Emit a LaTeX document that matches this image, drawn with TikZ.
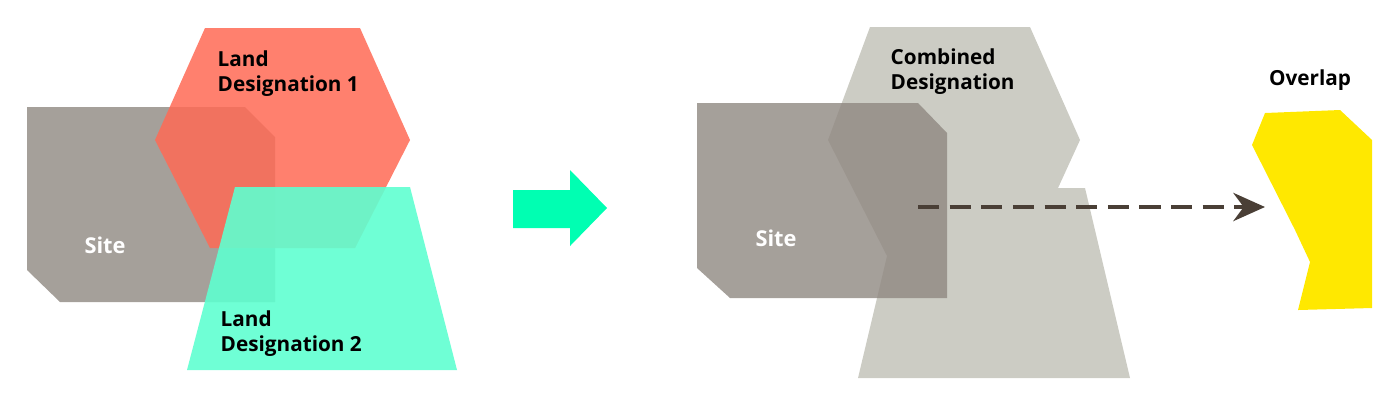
\documentclass[tikz,border=0pt]{standalone}
\usepackage{fontspec}
\setmainfont{Open Sans}
\usetikzlibrary{arrows.meta}
\definecolor{sitegray}{HTML}{8F8881}
\definecolor{landred}{HTML}{FF6A55}
\definecolor{landteal}{HTML}{5FFFD0}
\definecolor{combgray}{HTML}{CCCCC4}
\definecolor{arrowteal}{HTML}{00FFB2}
\definecolor{dashbrown}{HTML}{4A3F36}
\definecolor{overyellow}{HTML}{FFE800}
\tikzset{
  lbl/.style={font=\fontsize{5.9}{7.2}\selectfont\bfseries, align=left, anchor=north west, inner sep=0pt},
  sitelbl/.style={font=\fontsize{6.2}{7.2}\selectfont\bfseries, text=white, inner sep=0pt}
}
\begin{document}
\begin{tikzpicture}[x=0.1mm,y=-0.1mm]
\useasboundingbox (0,0) rectangle (1400,406);
% left
\fill[sitegray,opacity=0.8] (27,107) -- (245,107) -- (275,137) -- (275,302) -- (60,302) -- (27,270) -- cycle;
\fill[landred,opacity=0.85] (205,28) -- (360,28) -- (410,140) -- (355,248) -- (210,248) -- (155,140) -- cycle;
\fill[landteal,opacity=0.9] (235,187) -- (410,187) -- (457,370) -- (187,370) -- cycle;
\node[sitelbl] (site1) at (105,245) {Site};
\node[lbl] (ld1) at (217,50) {Land\\Designation 1};
\node[lbl] (ld2) at (220,310) {Land\\Designation 2};
% block arrow
\fill[arrowteal] (513,190) -- (570,190) -- (570,170) -- (607,208) -- (570,246) -- (570,228) -- (513,228) -- cycle;
% right
\fill[combgray] (870,27) -- (1030,27) -- (1080,140) -- (1058,188) -- (1085,188) -- (1130,378) -- (858,378) -- (887,256) -- (828,140) -- cycle;
\fill[sitegray,opacity=0.8] (697,103) -- (918,103) -- (947,133) -- (947,298) -- (730,298) -- (697,268) -- cycle;
\node[sitelbl] (site2) at (776,238) {Site};
\node[lbl] (comb) at (890,48) {Combined\\Designation};
\fill[overyellow] (1265,113) -- (1340,110) -- (1372,140) -- (1372,308) -- (1298,310) -- (1310,262) -- (1295,230) -- (1252,145) -- cycle;
\node[lbl, anchor=center] (over) at (1310,80) {Overlap};
\coordinate (from) at (918,207);
\coordinate (to) at (1265,207);
\draw[dashbrown, line width=1.3pt, dash pattern=on 6pt off 3pt, -{Stealth[length=9pt,width=8pt]}] (from) -- (to);
\end{tikzpicture}
\end{document}
